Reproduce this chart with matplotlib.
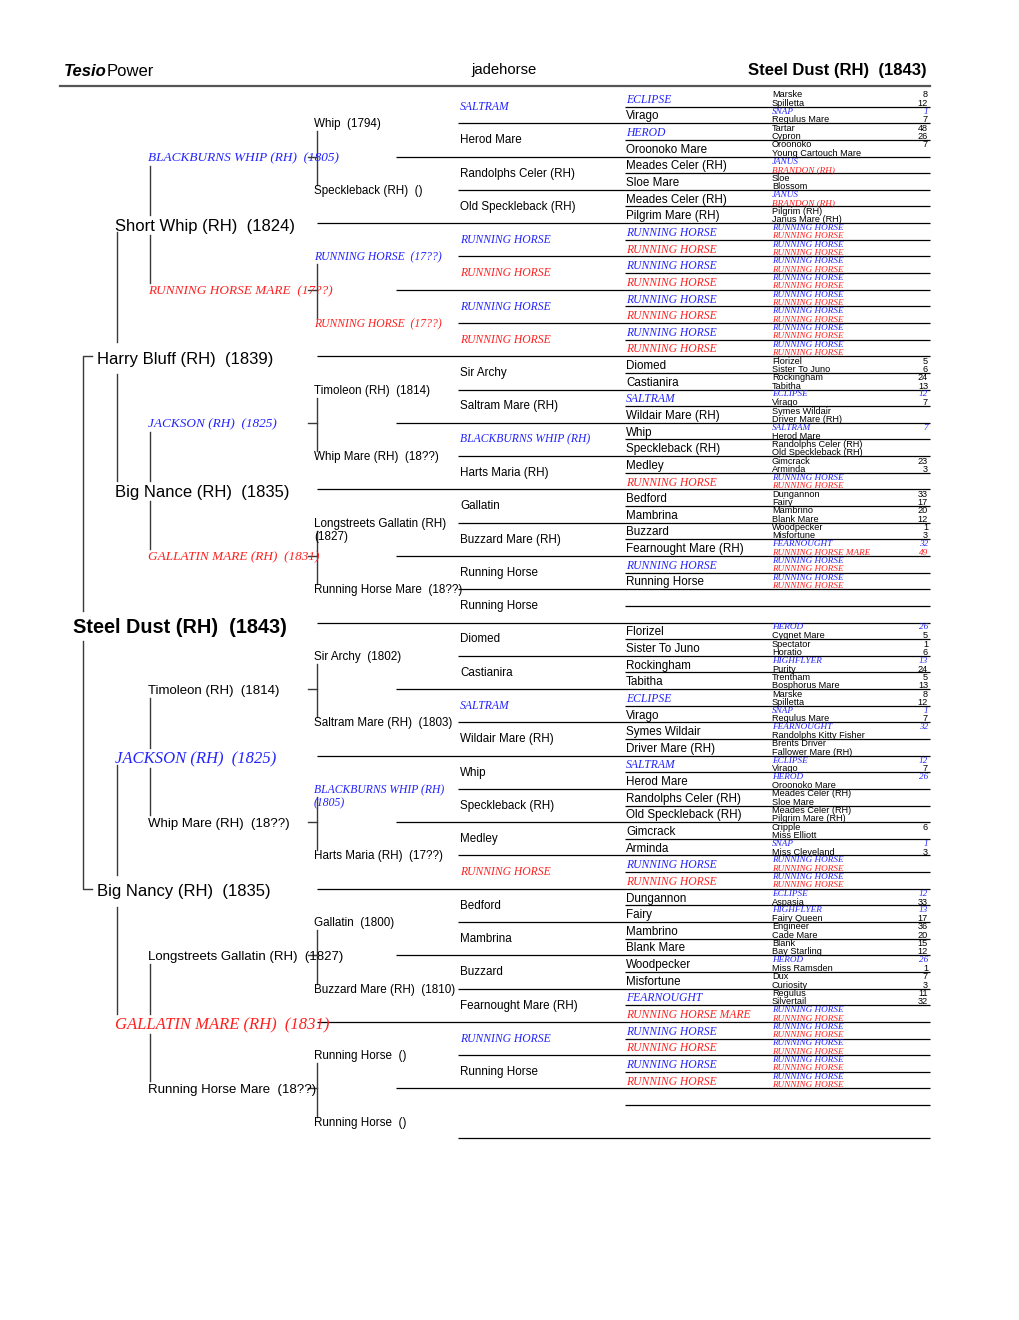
import matplotlib
matplotlib.use("Agg")
import matplotlib.pyplot as plt

# Pedigree of Steel Dust, one list per generation (sire first, dam second)
SUBJECT = "Steel Dust (RH)  (1843)"
SITE_NAME = "jadehorse"

GEN1 = ["Harry Bluff (RH)  (1839)", "Big Nancy (RH)  (1835)"]
GEN2 = ["Short Whip (RH)  (1824)", "Big Nance (RH)  (1835)",
        "JACKSON (RH)  (1825)", "GALLATIN MARE (RH)  (1831)"]
GEN3 = ["BLACKBURNS WHIP (RH)  (1805)", "RUNNING HORSE MARE  (17??)",
        "JACKSON (RH)  (1825)", "GALLATIN MARE (RH)  (1831)",
        "Timoleon (RH)  (1814)", "Whip Mare (RH)  (18??)",
        "Longstreets Gallatin (RH)  (1827)", "Running Horse Mare  (18??)"]
GEN4 = ["Whip  (1794)", "Speckleback (RH)  ()",
        "RUNNING HORSE  (17??)", "RUNNING HORSE  (17??)",
        "Timoleon (RH)  (1814)", "Whip Mare (RH)  (18??)",
        "Longstreets Gallatin (RH)\n(1827)", "Running Horse Mare  (18??)",
        "Sir Archy  (1802)", "Saltram Mare (RH)  (1803)",
        "BLACKBURNS WHIP (RH)\n(1805)", "Harts Maria (RH)  (17??)",
        "Gallatin  (1800)", "Buzzard Mare (RH)  (1810)",
        "Running Horse  ()", "Running Horse  ()"]
GEN5 = ["SALTRAM", "Herod Mare", "Randolphs Celer (RH)", "Old Speckleback (RH)",
        "RUNNING HORSE", "RUNNING HORSE", "RUNNING HORSE", "RUNNING HORSE",
        "Sir Archy", "Saltram Mare (RH)", "BLACKBURNS WHIP (RH)", "Harts Maria (RH)",
        "Gallatin", "Buzzard Mare (RH)", "Running Horse", "Running Horse",
        "Diomed", "Castianira", "SALTRAM", "Wildair Mare (RH)",
        "Whip", "Speckleback (RH)", "Medley", "RUNNING HORSE",
        "Bedford", "Mambrina", "Buzzard", "Fearnought Mare (RH)",
        "RUNNING HORSE", "Running Horse", "", ""]
GEN6 = (["ECLIPSE", "Virago", "HEROD", "Oroonoko Mare",
         "Meades Celer (RH)", "Sloe Mare", "Meades Celer (RH)", "Pilgrim Mare (RH)"]
        + ["RUNNING HORSE"] * 8
        + ["Diomed", "Castianira", "SALTRAM", "Wildair Mare (RH)",
           "Whip", "Speckleback (RH)", "Medley", "RUNNING HORSE",
           "Bedford", "Mambrina", "Buzzard", "Fearnought Mare (RH)",
           "RUNNING HORSE", "Running Horse", "", ""]
        + ["Florizel", "Sister To Juno", "Rockingham", "Tabitha",
           "ECLIPSE", "Virago", "Symes Wildair", "Driver Mare (RH)",
           "SALTRAM", "Herod Mare", "Randolphs Celer (RH)", "Old Speckleback (RH)",
           "Gimcrack", "Arminda", "RUNNING HORSE", "RUNNING HORSE",
           "Dungannon", "Fairy", "Mambrino", "Blank Mare",
           "Woodpecker", "Misfortune", "FEARNOUGHT", "RUNNING HORSE MARE"]
        + ["RUNNING HORSE"] * 4 + [""] * 4)
GEN7 = (["Marske", "Spilletta", "SNAP", "Regulus Mare", "Tartar", "Cypron",
         "Oroonoko", "Young Cartouch Mare", "JANUS", "BRANDON (RH)", "Sloe", "Blossom",
         "JANUS", "BRANDON (RH)", "Pilgrim (RH)", "Janus Mare (RH)"]
        + ["RUNNING HORSE"] * 16
        + ["Florizel", "Sister To Juno", "Rockingham", "Tabitha", "ECLIPSE", "Virago",
           "Symes Wildair", "Driver Mare (RH)", "SALTRAM", "Herod Mare",
           "Randolphs Celer (RH)", "Old Speckleback (RH)", "Gimcrack", "Arminda",
           "RUNNING HORSE", "RUNNING HORSE", "Dungannon", "Fairy", "Mambrino", "Blank Mare",
           "Woodpecker", "Misfortune", "FEARNOUGHT", "RUNNING HORSE MARE"]
        + ["RUNNING HORSE"] * 4 + [""] * 4
        + ["HEROD", "Cygnet Mare", "Spectator", "Horatio", "HIGHFLYER", "Purity",
           "Trentham", "Bosphorus Mare", "Marske", "Spilletta", "SNAP", "Regulus Mare",
           "FEARNOUGHT", "Randolphs Kitty Fisher", "Brents Driver", "Fallower Mare (RH)",
           "ECLIPSE", "Virago", "HEROD", "Oroonoko Mare", "Meades Celer (RH)", "Sloe Mare",
           "Meades Celer (RH)", "Pilgrim Mare (RH)", "Cripple", "Miss Elliott",
           "SNAP", "Miss Cleveland"]
        + ["RUNNING HORSE"] * 4
        + ["ECLIPSE", "Aspasia", "HIGHFLYER", "Fairy Queen", "Engineer", "Cade Mare",
           "Blank", "Bay Starling", "HEROD", "Miss Ramsden", "Dux", "Curiosity",
           "Regulus", "Silvertail"]
        + ["RUNNING HORSE"] * 10 + [""] * 8)
# Tesio numbers shown at the right edge of the last generation
GEN7_NUMS = (["8", "12", "1", "7", "48", "26", "7", "", "", "", "", "",
              "", "", "", ""]
             + [""] * 16
             + ["5", "6", "24", "13", "12", "7", "", "", "7", "",
                "", "", "23", "3", "", "", "33", "17", "20", "12",
                "1", "3", "32", "49"]
             + [""] * 8
             + ["26", "5", "1", "6", "13", "24", "5", "13", "8", "12", "1", "7",
                "32", "", "", "", "12", "7", "26", "", "", "", "", "", "6", "",
                "1", "3"]
             + [""] * 4
             + ["12", "33", "13", "17", "36", "20", "15", "12", "26", "1", "7", "3",
                "11", "32"]
             + [""] * 18)

GENERATIONS = [[SUBJECT], GEN1, GEN2, GEN3, GEN4, GEN5, GEN6, GEN7]

TOP = 90.0
HEIGHT = 1065.0
RIGHT = 930.0
COL_X = [73, 97, 115, 148, 314, 460, 626, 772]
FONT_PT = [14.3, 12, 12, 9.5, 8.4, 8.4, 8.4, 6.6]
# how far each column's text sits below the middle of its cell (px)
TEXT_DROP = [5, 3, 3.5, 1.5, 1, 0.3, 1.5, 0.8]
BLUE = "#2323ff"
RED = "#ff1f1f"
SANS = "Liberation Sans"
SERIF = "Liberation Serif"


def centre(gen, i):
    return TOP + HEIGHT / 2 ** gen * (i + 0.5)


def highlighted(name):
    base = name.split(" (")[0].split("\n")[0]
    return base.isupper()


def draw_names(ax):
    for gen, names in enumerate(GENERATIONS):
        for i, name in enumerate(names):
            if not name:
                continue
            y = centre(gen, i) + TEXT_DROP[gen]
            kw = dict(fontsize=FONT_PT[gen], family=SANS, color="black")
            if gen == 0:
                kw["weight"] = "bold"
            elif highlighted(name):
                kw.update(family=SERIF, style="italic", color=BLUE if i % 2 == 0 else RED)
            if "\n" in name:
                ax.text(COL_X[gen], y - FONT_PT[gen] * 0.7, name, va="top",
                        linespacing=1.15, **kw)
            else:
                ax.text(COL_X[gen], y, name, va="center", **kw)
            if gen == 7 and GEN7_NUMS[i]:
                ax.text(928, y, GEN7_NUMS[i], ha="right", va="center", **kw)


def draw_rules(ax):
    slot = HEIGHT / 64
    for k in range(1, 64):
        if k % 8 == 0:
            x0 = 317
        elif k % 4 == 0:
            x0 = 396
        elif k % 2 == 0:
            x0 = 458
        else:
            x0 = 625
        if k == 62:
            continue
        if k == 63:
            x0 = 458
        y = TOP + slot * k
        ax.plot([x0, RIGHT], [y, y], color="black", lw=0.9, solid_capstyle="butt")


def draw_connectors(ax):
    col = "#3a3a3a"
    # generation 1: bracket around the whole chart
    y_s, y_d, y_c = centre(1, 0), centre(1, 1), centre(0, 0)
    ax.plot([92, 83, 83], [y_s, y_s, y_c - 12], color=col, lw=1)
    ax.plot([83, 83, 92], [y_c + 18, y_d, y_d], color=col, lw=1)
    specs = {2: (117, 9, 8, 16), 3: (150, 9, 7, 10), 4: (317, 8, 5, 0)}
    for gen, (x, top_pad, bot_pad, gap) in specs.items():
        for p in range(2 ** (gen - 1)):
            y_s = centre(gen, 2 * p) + top_pad
            y_d = centre(gen, 2 * p + 1) - bot_pad
            y_c = centre(gen - 1, p) + 2
            if gap:
                ax.plot([x, x], [y_s, y_c - gap], color=col, lw=1)
                ax.plot([x, x], [y_c + gap, y_d], color=col, lw=1)
            else:
                ax.plot([x, x], [y_s, y_d], color=col, lw=1)
                ax.plot([308, x], [y_c - 2, y_c - 2], color=col, lw=1)


def draw_header(ax):
    t1 = ax.text(64, 71, "Tesio", fontsize=12, family=SANS, weight="bold",
                 style="italic", va="center")
    ax.annotate("Power", xy=(1, 0), xycoords=t1, va="bottom", ha="left",
                fontsize=12, family=SANS)
    ax.text(471, 70, SITE_NAME, fontsize=10.7, family=SANS, va="center")
    ax.text(927, 71, SUBJECT, fontsize=12, family=SANS, weight="bold",
            ha="right", va="center")
    ax.plot([60, RIGHT], [85.5, 85.5], color="#555555", lw=1.6)


def main() -> None:
    fig = plt.figure(figsize=(10.2, 13.2), dpi=100)
    ax = fig.add_axes([0, 0, 1, 1])
    ax.set_xlim(0, 1020)
    ax.set_ylim(1320, 0)
    ax.axis("off")

    draw_header(ax)
    draw_rules(ax)
    draw_connectors(ax)
    draw_names(ax)

    fig.savefig("out.png", dpi=100, facecolor="white")


if __name__ == "__main__":
    main()
